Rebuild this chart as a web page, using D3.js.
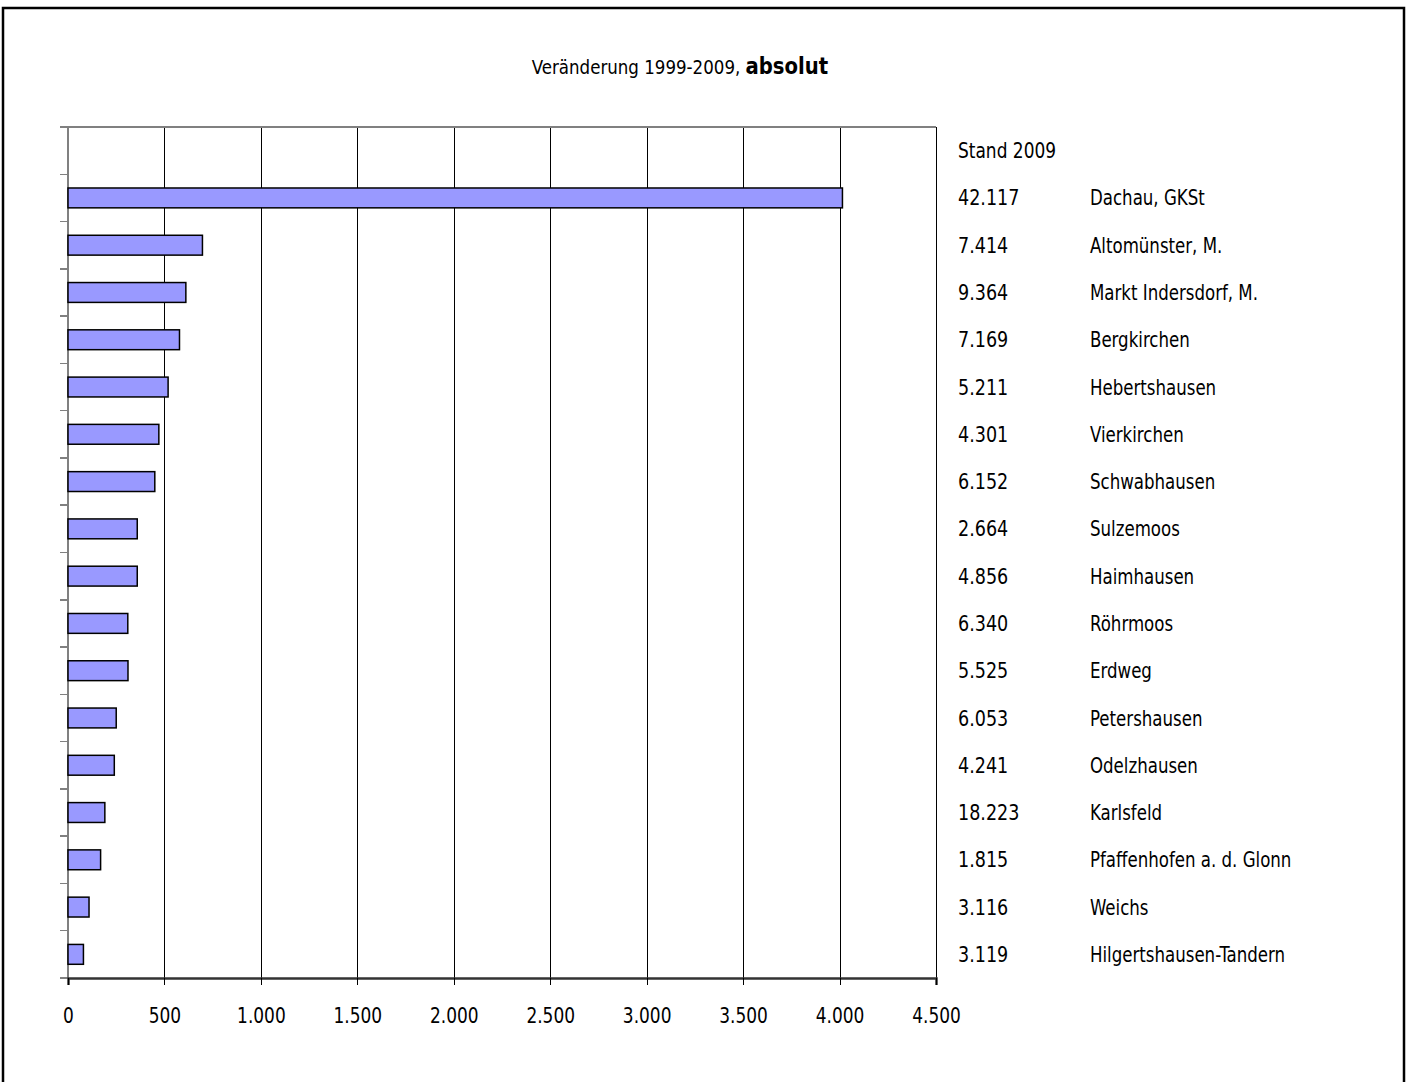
<!DOCTYPE html>
<html>
<head>
<meta charset="utf-8">
<script src="https://cdn.jsdelivr.net/npm/d3@7"></script>
<style>
  body { margin: 0; background: #fff; }
  svg { display: block; }
  text { font-family: "Liberation Sans Narrow", "DejaVu Sans Condensed", sans-serif; fill: #000; }
  line { shape-rendering: crispEdges; }
</style>
</head>
<body>
<svg id="chart" width="1408" height="1082"></svg>
<script>
// Gemeinden, sortiert nach Veränderung
const gemeinden = ["Dachau, GKSt", "Altomünster, M.", "Markt Indersdorf, M.", "Bergkirchen", "Hebertshausen",
  "Vierkirchen", "Schwabhausen", "Sulzemoos", "Haimhausen", "Röhrmoos", "Erdweg", "Petershausen",
  "Odelzhausen", "Karlsfeld", "Pfaffenhofen a. d. Glonn", "Weichs", "Hilgertshausen-Tandern"];
const veraenderung = [4015, 697, 611, 578, 519, 471, 450, 359, 359, 310, 311, 250, 240, 191, 169, 109, 80];
const stand2009 = [42117, 7414, 9364, 7169, 5211, 4301, 6152, 2664, 4856, 6340, 5525, 6053, 4241, 18223, 1815, 3116, 3119];
const xTicks = [0, 500, 1000, 1500, 2000, 2500, 3000, 3500, 4000, 4500];

const de = d3.formatLocale({ decimal: ",", thousands: ".", grouping: [3], currency: ["", " €"] });
const fmt = de.format(",d");

const narrow = 0.9; // schmale Schrift nachbilden

const svg = d3.select('#chart');

// Rahmen
svg.append('rect')
  .attr('x', 3).attr('y', 8).attr('width', 1401).attr('height', 1090)
  .attr('fill', 'none').attr('stroke', '#000').attr('stroke-width', 2.5);

// Titel
const title = svg.append('text')
  .attr('transform', `translate(680, 74) scale(0.95, 1)`)
  .attr('text-anchor', 'middle');
title.append('tspan').style('font-size', '19.5px').text('Veränderung 1999-2009, ');
title.append('tspan').style('font-size', '23px').style('font-weight', 'bold').text('absolut');

const plot = { left: 68, right: 936, top: 127, bottom: 978 };

const rows = ['header'].concat(gemeinden);

const x = d3.scaleLinear().domain([0, 4500]).range([plot.left, plot.right]);
const y = d3.scaleBand().domain(rows)
  .range([plot.top, plot.bottom])
  .paddingInner(0.58).paddingOuter(0.29);

// Gitterlinien
svg.append('g')
  .attr('transform', `translate(0, ${plot.bottom})`)
  .call(d3.axisBottom(x).tickValues(xTicks).tickSize(-(plot.bottom - plot.top)).tickFormat(''))
  .call(g => g.select('.domain').remove())
  .call(g => g.selectAll('line').attr('stroke', '#000').attr('stroke-width', 1));

// obere Begrenzung
svg.append('line')
  .attr('x1', 60).attr('x2', plot.right)
  .attr('y1', plot.top).attr('y2', plot.top)
  .attr('stroke', '#808080').attr('stroke-width', 1.5);

// y-Achse mit Teilstrichen an Kategoriegrenzen
const step = y.step();
const boundaries = d3.range(rows.length + 1).map(i => plot.top + i * step);
const yAxis = svg.append('g');
yAxis.append('line')
  .attr('x1', plot.left).attr('x2', plot.left)
  .attr('y1', plot.top).attr('y2', plot.bottom)
  .attr('stroke', '#808080').attr('stroke-width', 1.5);
yAxis.selectAll('line.tick')
  .data(boundaries)
  .join('line')
  .attr('class', 'tick')
  .attr('x1', 60).attr('x2', plot.left)
  .attr('y1', d => d).attr('y2', d => d)
  .attr('stroke', '#808080').attr('stroke-width', 1.5);

// Balken
svg.append('g')
  .selectAll('rect')
  .data(gemeinden)
  .join('rect')
  .attr('x', x(0))
  .attr('y', d => y(d))
  .attr('width', (d, i) => x(veraenderung[i]) - x(0))
  .attr('height', y.bandwidth())
  .attr('fill', '#9999ff')
  .attr('stroke', '#000')
  .attr('stroke-width', 1.5);

// x-Achse
const xAxis = svg.append('g')
  .attr('transform', `translate(0, ${plot.bottom})`)
  .call(d3.axisBottom(x).tickValues(xTicks).tickSize(7).tickFormat(fmt));
xAxis.select('.domain').attr('stroke', '#333').attr('stroke-width', 2.5);
xAxis.selectAll('.tick line').attr('stroke', '#000');
xAxis.selectAll('.tick text')
  .attr('y', 45).attr('dy', 0)
  .attr('transform', `scale(${narrow}, 1)`)
  .style('font-size', '21px')
  .style('font-family', '"Liberation Sans Narrow", "DejaVu Sans Condensed", sans-serif')
  .attr('fill', '#000');

// Tabelle rechts
const mid = d => y(d) + y.bandwidth() / 2;
svg.append('text')
  .attr('transform', `translate(958, ${mid('header')}) scale(${narrow}, 1)`)
  .attr('dy', '0.36em')
  .style('font-size', '21px')
  .text('Stand 2009');

const table = svg.append('g');
table.selectAll('text.stand')
  .data(gemeinden)
  .join('text')
  .attr('class', 'stand')
  .attr('transform', d => `translate(958, ${mid(d)}) scale(0.93, 1)`)
  .attr('dy', '0.36em')
  .style('font-size', '21px')
  .text((d, i) => fmt(stand2009[i]));
table.selectAll('text.name')
  .data(gemeinden)
  .join('text')
  .attr('class', 'name')
  .attr('transform', d => `translate(1090, ${mid(d)}) scale(${narrow - 0.02}, 1)`)
  .attr('dy', '0.36em')
  .style('font-size', '21px')
  .text(d => d);
</script>
</body>
</html>
